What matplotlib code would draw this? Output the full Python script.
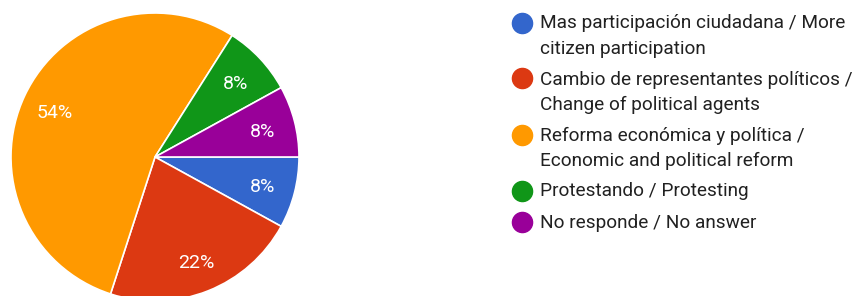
import matplotlib.pyplot as plt
from matplotlib.lines import Line2D

labels = ["Mas participación ciudadana / More\ncitizen participation",
          "Cambio de representantes políticos /\nChange of political agents",
          "Reforma económica y política /\nEconomic and political reform",
          "Protestando / Protesting",
          "No responde / No answer"]
values = [8, 22, 54, 8, 8]
colors = ["#3366cc", "#dc3912", "#ff9900", "#109618", "#990099"]

W, H = 858, 296
fig = plt.figure(figsize=(W / 100, H / 100), dpi=100)
plt.rcParams['font.family'] = ['Roboto', 'DejaVu Sans']

# pie: centre (155, 157) px, radius 144 px
cx, cy, r = 155, 157, 144
ax = fig.add_axes([(cx - r) / W, (H - cy - r) / H, 2 * r / W, 2 * r / H])
wedges, texts, autotexts = ax.pie(values, colors=colors, startangle=0, counterclock=False,
                                  autopct='%d%%', pctdistance=0.77,
                                  wedgeprops=dict(edgecolor='white', linewidth=1.2),
                                  textprops=dict(color='white', fontsize=14))
for t in autotexts:
    x, yy = t.get_position()
    t.set_position((x, yy - 0.02))
ax.set_xlim(-1, 1)
ax.set_ylim(-1, 1)
ax.set_aspect('equal')
ax.axis('off')

# legend
y = 22.5
for lab, col in zip(labels, colors):
    fig.add_artist(Line2D([522 / W], [1 - y / H], marker='o', markersize=14.5, color=col,
                          linestyle='none', transform=fig.transFigure))
    for k, line in enumerate(lab.split('\n')):
        fig.text(540 / W, 1 - (y + 1 + k * 25) / H, line, fontsize=13.7, color='#212121',
                 va='center', ha='left')
    y += 25 * len(lab.split('\n')) + 6

fig.savefig('out.png', dpi=100)
